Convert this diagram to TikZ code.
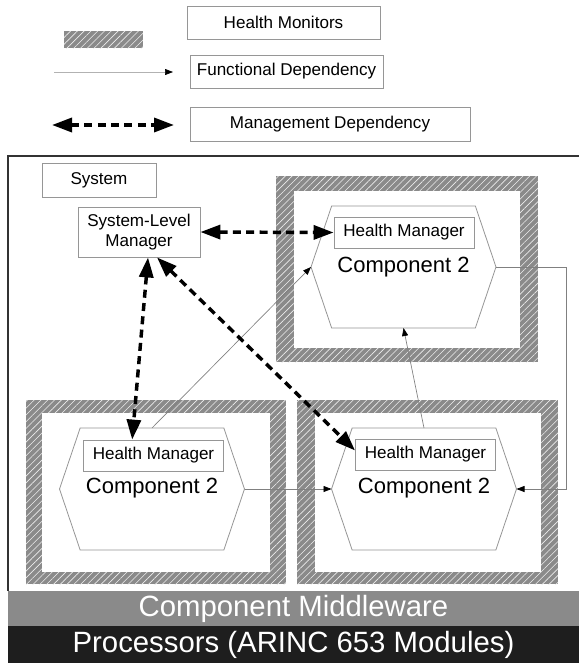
\documentclass[tikz,border=0pt]{standalone}
\usepackage{fontspec}
\setmainfont{Liberation Sans}
\usetikzlibrary{arrows.meta,patterns.meta}

\definecolor{framegray}{RGB}{138,138,138}
\definecolor{edgegray}{RGB}{150,150,150}
\definecolor{bandgray}{RGB}{138,138,138}
\definecolor{banddark}{RGB}{30,30,30}

\tikzset{every picture/.style={line width=0.75pt}}
\tikzset{
  hatched/.style={preaction={fill=framegray}, pattern={Lines[angle=45,distance=3.6pt,line width=0.45pt]}, pattern color=white!85!framegray},
  labelbox/.style={draw=edgegray, line width=0.6pt, fill=white, minimum height=24.75pt, inner sep=2pt, font=\fontsize{12.8}{15}\selectfont},
  hmbox/.style={draw=edgegray, line width=0.6pt, fill=white, minimum width=105pt, minimum height=23.25pt, inner sep=2pt, font=\fontsize{12.8}{15}\selectfont},
  compnt/.style={minimum width=138pt, minimum height=90.75pt, inner sep=0pt, font=\fontsize{16.5}{19}\selectfont},
  bandtext/.style={text=white, font=\fontsize{22}{26}\selectfont},
  mgmt/.style={line width=2.6pt, dash pattern=on 6pt off 4pt, {Triangle[length=15pt,width=10.5pt]}-{Triangle[length=15pt,width=10.5pt]}},
  func/.style={draw=gray, line width=0.5pt, -{Triangle[length=6pt,width=4.5pt,color=black]}},
}

% hexagon drawn round a component node
\newcommand\hexout[1]{%
  \draw[edgegray, line width=0.6pt, fill=white] (#1.west) -- ([xshift=15.5pt]#1.north west) -- ([xshift=-15.5pt]#1.north east) -- (#1.east) -- ([xshift=-15.5pt]#1.south east) -- ([xshift=15.5pt]#1.south west) -- cycle ;}

\begin{document}
\begin{tikzpicture}[x=0.75pt,y=0.75pt,yscale=-1,xscale=1]
    \useasboundingbox (0,0) rectangle (579,665);

    %Legend
    \fill[hatched] (64,31) rectangle (143,48);
    \node[labelbox, minimum width=144.75pt] (lmon) at (283.5,22.5) {Health Monitors};
    \node[labelbox, minimum width=144.75pt] (lfunc) at (286.5,71.5) {Functional Dependency};
    \node[labelbox, minimum width=210pt, minimum height=25.5pt] (lmgmt) at (330,124) {Management Dependency};
    \coordinate (fa) at (54,72);
    \coordinate (fb) at (173,72);
    \coordinate (ma) at (52,125);
    \coordinate (mb) at (174,125);
    \draw[func, draw=gray!60] (fa) -- (fb);
    \draw[mgmt] (ma) -- (mb);

    %System frame and bands
    \draw[line width=1.3pt, draw=black!80] (579,156) -- (8,156) -- (8,591);
    \fill[bandgray] (8,591) rectangle (579,626);
    \fill[banddark] (8,626) rectangle (579,663);
    \node[bandtext] (mid) at (293.5,608.5) {Component Middleware};
    \node[bandtext] (proc) at (293.5,644.5) {Processors (ARINC 653 Modules)};

    % Text Node
    \node[labelbox, minimum width=85.5pt, minimum height=25.5pt] (sys) at (99,180) {System};
    \node[labelbox, minimum width=91.5pt, minimum height=37.5pt, align=center] (slm) at (139,232) {System-Level\\Manager};

    %Shape: Hatched frames
    \fill[hatched] (276,176) rectangle (538,362);
    \fill[white] (294,191) rectangle (520,348);
    \fill[hatched] (26,400) rectangle (286,584);
    \fill[white] (42,413) rectangle (270,572);
    \fill[hatched] (297,400) rectangle (558,584);
    \fill[white] (315,413) rectangle (541,572);

    %Components
    \node[compnt] (c1) at (403.5,267) {};
    \node[compnt] (c2) at (152,489) {};
    \node[compnt] (c3) at (424,489) {};
    \hexout{c1} \hexout{c2} \hexout{c3}
    \node[compnt] at (c1) {Component 2};
    \node[compnt] at ([yshift=-0.75pt]c2) {Component 2};
    \node[compnt] at ([yshift=-0.75pt]c3) {Component 2};
    \node[hmbox] (hm1) at (404,232.5) {Health Manager};
    \node[hmbox] (hm2) at (153.5,455.5) {Health Manager};
    \node[hmbox] (hm3) at (425.5,454.5) {Health Manager};

    %Functional dependencies
    \draw[func] (c2.north) -- (c1.west);
    \draw[func] (c2.east) -- (c3.west);
    \draw[func] (c3.north) -- (c1.south);
    \draw[func] (c1.east) -- ++(70,0) |- (c3.east);

    %Management dependencies
    \draw[mgmt] (slm.east) -- (hm1.west);
    \draw[mgmt] ([xshift=6.75pt]slm.south) -- ([xshift=-16pt]hm2.north);
    \draw[mgmt] ([xshift=13.5pt]slm.south) -- ([yshift=-3pt]hm3.west);
\end{tikzpicture}
\end{document}
